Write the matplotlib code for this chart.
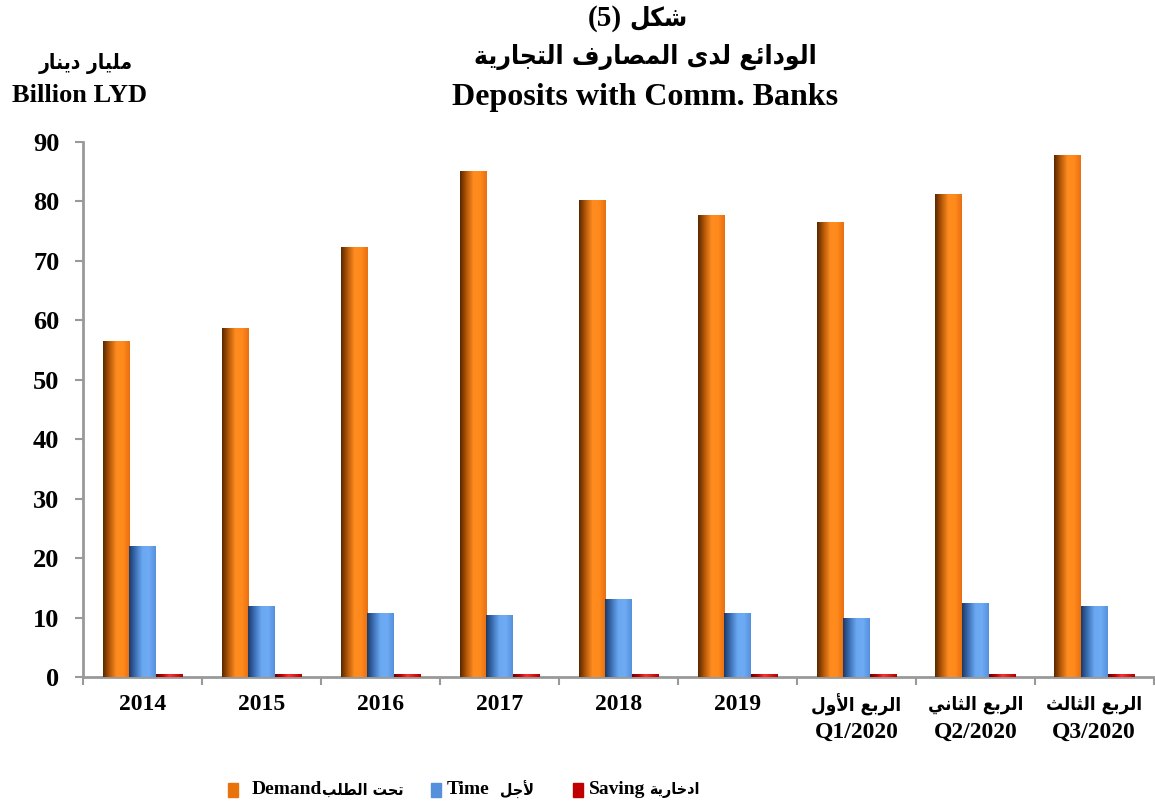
import numpy as np
import matplotlib
matplotlib.use("Agg")
import matplotlib.pyplot as plt
from matplotlib.colors import LinearSegmentedColormap
from matplotlib.patches import Rectangle

# ── Datos ─────────────────────────────────────────────────────────────────────
years = ["2014", "2015", "2016", "2017", "2018", "2019", "Q1/2020", "Q2/2020", "Q3/2020"]
quarter_ar = {"Q1/2020": "الربع الأول", "Q2/2020": "الربع الثاني", "Q3/2020": "الربع الثالث"}
demand = [56.5, 58.7, 72.2, 85.0, 80.1, 77.6, 76.5, 81.1, 87.8]
time_dep = [21.9, 11.9, 10.6, 10.4, 13.0, 10.6, 9.9, 12.4, 11.8]
saving = [0.5, 0.5, 0.5, 0.5, 0.4, 0.4, 0.4, 0.4, 0.4]

# ── Conformador árabe mínimo (formas de presentación + orden visual) ─────────
FORMS = {
    'ا': (0xFE8D, 0xFE8E, None, None), 'أ': (0xFE83, 0xFE84, None, None),
    'ب': (0xFE8F, 0xFE90, 0xFE91, 0xFE92), 'ة': (0xFE93, 0xFE94, None, None),
    'ت': (0xFE95, 0xFE96, 0xFE97, 0xFE98), 'ث': (0xFE99, 0xFE9A, 0xFE9B, 0xFE9C),
    'ج': (0xFE9D, 0xFE9E, 0xFE9F, 0xFEA0), 'ح': (0xFEA1, 0xFEA2, 0xFEA3, 0xFEA4),
    'خ': (0xFEA5, 0xFEA6, 0xFEA7, 0xFEA8), 'د': (0xFEA9, 0xFEAA, None, None),
    'ر': (0xFEAD, 0xFEAE, None, None), 'ش': (0xFEB5, 0xFEB6, 0xFEB7, 0xFEB8),
    'ص': (0xFEB9, 0xFEBA, 0xFEBB, 0xFEBC), 'ط': (0xFEC1, 0xFEC2, 0xFEC3, 0xFEC4),
    'ع': (0xFEC9, 0xFECA, 0xFECB, 0xFECC), 'ف': (0xFED1, 0xFED2, 0xFED3, 0xFED4),
    'ك': (0xFED9, 0xFEDA, 0xFEDB, 0xFEDC), 'ل': (0xFEDD, 0xFEDE, 0xFEDF, 0xFEE0),
    'م': (0xFEE1, 0xFEE2, 0xFEE3, 0xFEE4), 'ن': (0xFEE5, 0xFEE6, 0xFEE7, 0xFEE8),
    'و': (0xFEED, 0xFEEE, None, None), 'ى': (0xFEEF, 0xFEF0, None, None),
    'ي': (0xFEF1, 0xFEF2, 0xFEF3, 0xFEF4), 'ئ': (0xFE89, 0xFE8A, 0xFE8B, 0xFE8C),
}
LAM_ALEF = {'ا': (0xFEFB, 0xFEFC), 'أ': (0xFEF7, 0xFEF8)}


def ar(text):
    out = []
    i = 0
    while i < len(text):
        c = text[i]
        if c not in FORMS:
            out.append(c)
            i += 1
            continue
        prev = text[i - 1] if i > 0 else ''
        nxt = text[i + 1] if i + 1 < len(text) else ''
        joins_prev = prev in FORMS and FORMS[prev][2] is not None
        if c == 'ل' and nxt in LAM_ALEF:
            out.append(chr(LAM_ALEF[nxt][1 if joins_prev else 0]))
            i += 2
            continue
        joins_next = FORMS[c][2] is not None and nxt in FORMS
        iso, fin, ini, med = FORMS[c]
        if joins_prev and joins_next:
            f = med
        elif joins_prev:
            f = fin
        elif joins_next:
            f = ini
        else:
            f = iso
        out.append(chr(f))
        i += 1
    return ''.join(out[::-1])


FAM = ['Liberation Serif', 'DejaVu Sans']
AR = dict(family=['DejaVu Sans'], fontstretch='condensed', fontweight='bold')
plt.rcParams['font.family'] = FAM
plt.rcParams['font.weight'] = 'bold'

# ── Figura ────────────────────────────────────────────────────────────────────
fig = plt.figure(figsize=(11.55, 8.11), dpi=100)
ax = fig.add_axes([0.0719, 0.1652, 0.927, 0.6597])

x = np.arange(len(years))
w = 0.223
series = [
    (demand, -w, '#f07a12', ['#5a2800', '#b85a08', '#ff8c20', '#ff8a1c', '#e87010']),
    (time_dep, 0, '#5a96e0', ['#1c3a68', '#3f72b8', '#6aa8f2', '#6eabf4', '#5590dc']),
    (saving, w, '#c00000', ['#700000', '#c00000', '#ff3030', '#e01818', '#b00000']),
]

for vals, off, col, grad in series:
    bars = ax.bar(x + off, vals, w, color=col, linewidth=0, zorder=2)
    cmap = LinearSegmentedColormap.from_list('g', grad)
    g = np.linspace(0, 1, 64).reshape(1, -1)
    for b in bars:
        x0, y0 = b.get_x(), b.get_y()
        ax.imshow(g, cmap=cmap, aspect='auto', interpolation='bilinear',
                  extent=(x0, x0 + b.get_width(), y0, y0 + b.get_height()), zorder=3)

ax.set_xlim(-0.5, len(years) - 0.5)
ax.set_ylim(0, 90)
ax.set_yticks(range(0, 91, 10))

# años como etiquetas normales; trimestres en dos líneas (árabe + Qn/2020)
labels = ["" if y in quarter_ar else y for y in years]
ax.set_xticks(x)
ax.set_xticklabels(labels, fontsize=17, fontweight='bold')
for xi, y in zip(x, years):
    if y in quarter_ar:
        ax.annotate(ar(quarter_ar[y]), xy=(xi, 0), xycoords=('data', 'axes fraction'),
                    xytext=(0, -20), textcoords='offset points', ha='center', va='center',
                    fontsize=13.5, **AR)
        ax.annotate(y, xy=(xi, 0), xycoords=('data', 'axes fraction'),
                    xytext=(0, -40), textcoords='offset points', ha='center', va='center',
                    fontsize=17, fontweight='bold')
ax.set_xticks(np.arange(-0.5, len(years)), minor=True)
ax.tick_params(axis='x', which='major', length=0, pad=12)
ax.tick_params(axis='x', which='minor', length=6, width=1.5, color='#999999', direction='out')
ax.tick_params(axis='y', length=6, width=1.5, color='#999999', direction='out',
               labelsize=19, pad=11)
for lab in ax.get_yticklabels():
    lab.set_fontweight('bold')

for s in ['top', 'right']:
    ax.spines[s].set_visible(False)
for s in ['left', 'bottom']:
    ax.spines[s].set_color('#999999')
    ax.spines[s].set_linewidth(2)

# ── Títulos ───────────────────────────────────────────────────────────────────
fig.text(622 / 1155, 1 - 18 / 811, "(5)", ha='right', va='center',
         fontsize=21, fontweight='bold')
fig.text(629 / 1155, 1 - 18 / 811, ar("شكل"), ha='left', va='center', fontsize=19, **AR)
fig.text(645 / 1155, 1 - 57 / 811, ar("الودائع لدى المصارف التجارية"), ha='center',
         va='center', fontsize=19, **AR)
fig.text(645 / 1155, 1 - 98 / 811, "Deposits with Comm. Banks", ha='center',
         va='center', fontsize=23, fontweight='bold')
fig.text(86 / 1155, 1 - 64 / 811, ar("مليار دينار"), ha='center', va='center',
         fontsize=15, **AR)
fig.text(79 / 1155, 1 - 95 / 811, "Billion LYD", ha='center', va='center',
         fontsize=19, fontweight='bold')

# ── Leyenda (manual: latín y árabe con tamaños distintos) ────────────────────
leg = [("Demand", "تحت الطلب", '#e8720c', 228, 24, 0),
       ("Time", "لأجل", '#5590dc', 431, 16, 10),
       ("Saving", "ادخارية", '#c00000', 573, 16, 4)]
ly = 1 - 790 / 811
renderer = fig.canvas.get_renderer()
for en, arab, col, xs, pad, gap in leg:
    fig.add_artist(Rectangle((xs / 1155, ly - 7 / 811), 10 / 1155, 14 / 811,
                             transform=fig.transFigure, color=col))
    t = fig.text((xs + pad) / 1155, ly, en, ha='left', va='center', fontsize=14,
                 fontweight='bold')
    xe = t.get_window_extent(renderer).x1
    fig.text((xe + gap) / 1155, ly, ar(arab), ha='left', va='center', fontsize=11.5, **AR)

fig.savefig('out.png', dpi=100)
